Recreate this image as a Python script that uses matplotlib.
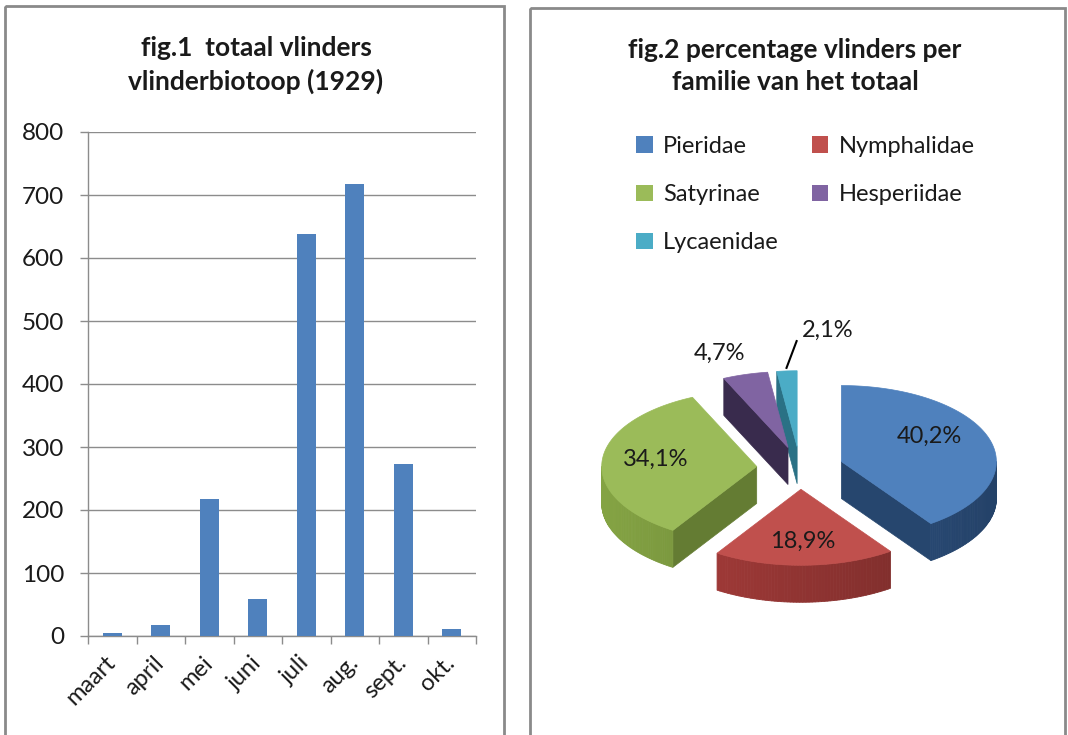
import numpy as np
import matplotlib.pyplot as plt
from matplotlib.patches import Rectangle, Polygon, Patch
from matplotlib.colors import to_rgb

# ── Data ──────────────────────────────────────────────────────────────────────

months = ["maart", "april", "mei", "juni", "juli", "aug.", "sept.", "okt."]
counts = [5, 17, 218, 58, 638, 717, 273, 11]

families = ["Pieridae", "Nymphalidae", "Satyrinae", "Hesperiidae", "Lycaenidae"]
shares = [40.2, 18.9, 34.1, 4.7, 2.1]
share_labels = ["40,2%", "18,9%", "34,1%", "4,7%", "2,1%"]

# ── Style ─────────────────────────────────────────────────────────────────────

W, H = 1068, 735
FONT = "Lato"
BAR_C = "#4F81BD"
GRID_C = "#8C8C8C"
TEXT_C = "#1A1A1A"
top_colours = ["#4F81BD", "#C0504D", "#9BBB59", "#8064A2", "#4BACC6"]
wall_colours = ["#2D5282", "#963634", "#76923C", "#43335A", "#31859C"]

# pie geometry (pixels)
CX, CY = 800, 468
A, B = 155, 76
DEPTH = 37
EXPLODE = 0.28

plt.rcParams.update({
    "font.family": [FONT, "DejaVu Sans"],
    "text.color": TEXT_C,
})


def fig_rect(x0, y0, x1, y1):
    return [x0 / W, 1 - y1 / H, (x1 - x0) / W, (y1 - y0) / H]


def shade(c, f):
    r, g, b = to_rgb(c)
    return (min(r * f, 1), min(g * f, 1), min(b * f, 1))


fig = plt.figure(figsize=(W / 100, H / 100), dpi=100, facecolor="white")

# full-figure canvas in pixel coordinates (panels + pie)
base = fig.add_axes([0, 0, 1, 1])
base.set_xlim(0, W)
base.set_ylim(H, 0)
base.axis("off")
base.patch.set_visible(False)

# panel frames
for x0, y0, x1, y1 in [(5, 6, 504, 760), (530, 8, 1065, 760)]:
    base.add_patch(Rectangle((x0, y0), x1 - x0, y1 - y0, fill=False,
                             ec="#8A8A8A", lw=2.0, zorder=1))

# ── fig.1 bar chart ──────────────────────────────────────────────────────────

ax = fig.add_axes(fig_rect(88, 132, 476, 636))
x = np.arange(len(months))
ax.bar(x, counts, width=0.4, color=BAR_C, zorder=3)
ax.set_xlim(-0.5, len(months) - 0.5)
ax.set_ylim(0, 800)
ax.set_yticks(range(0, 801, 100))
ax.yaxis.grid(True, color=GRID_C, lw=1.0, zorder=0)
ax.set_axisbelow(True)
for s in ["top", "right"]:
    ax.spines[s].set_visible(False)
for s in ["left", "bottom"]:
    ax.spines[s].set_color(GRID_C)
    ax.spines[s].set_linewidth(1.0)

ax.set_xticks(x)
ax.set_xticklabels(months, rotation=45, ha="right", va="center",
                   rotation_mode="anchor")
ax.set_xticks(np.arange(-0.5, len(months)), minor=True)
ax.tick_params(axis="x", which="major", length=0, pad=17, labelsize=17,
               labelcolor=TEXT_C)
ax.tick_params(axis="x", which="minor", length=6, color=GRID_C, width=1.0)
ax.tick_params(axis="y", length=6, color=GRID_C, width=1.0, pad=11,
               labelsize=17.5, labelcolor=TEXT_C)

fig.text(256 / W, 1 - 65 / H, "fig.1  totaal vlinders\nvlinderbiotoop (1929)",
         ha="center", va="center", fontsize=19, fontweight="bold",
         linespacing=1.4)

# ── fig.2 exploded 3D pie ────────────────────────────────────────────────────

fig.text(795 / W, 1 - 66 / H, "fig.2 percentage vlinders per\nfamilie van het totaal",
         ha="center", va="center", fontsize=19, fontweight="bold",
         linespacing=1.4)

handles = [Patch(fc=c, ec="none") for c in top_colours]
order = [0, 2, 4, 1, 3]
fig.legend([handles[i] for i in order], [families[i] for i in order],
           loc="upper left", bbox_to_anchor=(636 / W, 1 - 136 / H), ncol=2,
           frameon=False, fontsize=17, handlelength=0.7, handleheight=0.7,
           handletextpad=0.45, labelspacing=1.15, columnspacing=1.4,
           borderpad=0, borderaxespad=0)

bounds = np.concatenate([[0], np.cumsum(shares)]) / 100 * 2 * np.pi
slices = []
for i in range(len(shares)):
    t1, t2 = bounds[i], bounds[i + 1]
    mid = (t1 + t2) / 2
    px = CX + EXPLODE * A * np.sin(mid)
    py = CY - EXPLODE * B * np.cos(mid)
    slices.append((py, i, t1, t2, mid, px))


def rim(px, py, t, k=1.0):
    return px + k * A * np.sin(t), py - k * B * np.cos(t)


for py, i, t1, t2, mid, px in sorted(slices):
    top_c, wall_c = top_colours[i], wall_colours[i]
    z = 3 + py / 1000
    # radial side walls facing the viewer
    for t, vis in [(t1, np.sin(t1) < -1e-6), (t2, np.sin(t2) > 1e-6)]:
        if vis:
            ox, oy = rim(px, py, t)
            base.add_patch(Polygon([(px, py), (ox, oy), (ox, oy + DEPTH),
                                    (px, py + DEPTH)], closed=True,
                                   fc=shade(wall_c, 0.85), ec=shade(wall_c, 0.85),
                                   lw=0.5, zorder=z))
    # outer curved wall (front half)
    lo, hi = max(t1, np.pi / 2), min(t2, 3 * np.pi / 2)
    if hi > lo:
        ts = np.linspace(lo, hi, 60)
        for a0, a1 in zip(ts[:-1], ts[1:]):
            f = 1.12 - 0.32 * (np.sin((a0 + a1) / 2) + 1) / 2
            x0, y0 = rim(px, py, a0)
            x1, y1 = rim(px, py, a1)
            c = shade(wall_c, f)
            base.add_patch(Polygon([(x0, y0), (x1, y1), (x1, y1 + DEPTH),
                                    (x0, y0 + DEPTH)], closed=True,
                                   fc=c, ec=c, lw=0.6, zorder=z))
    # top face
    ts = np.linspace(t1, t2, 120)
    xs, ys = rim(px, py, ts)
    pts = [(px, py)] + list(zip(xs, ys))
    base.add_patch(Polygon(pts, closed=True, fc=top_c, ec=top_c, lw=0.5,
                           zorder=z + 0.001))

# data labels
label_k = [0.62, 0.62, 0.62, 1.42, 1.55]
label_dx = [-4, 0, -5, -8, 46]
label_dy = [-11, 5, -4, 10, 1]
for py, i, t1, t2, mid, px in slices:
    lx, ly = rim(px, py, mid, label_k[i])
    base.text(lx + label_dx[i], ly + label_dy[i], share_labels[i],
              ha="center", va="center", fontsize=17, color=TEXT_C, zorder=10)
    if i == len(shares) - 1:
        sx, sy = rim(px, py, mid, 1.04)
        ex, ey = rim(px, py, mid, 1.42)
        base.plot([sx, ex + 14], [sy, ey + 2], color="black", lw=1.5, zorder=10)

fig.savefig("out.png", dpi=100)
